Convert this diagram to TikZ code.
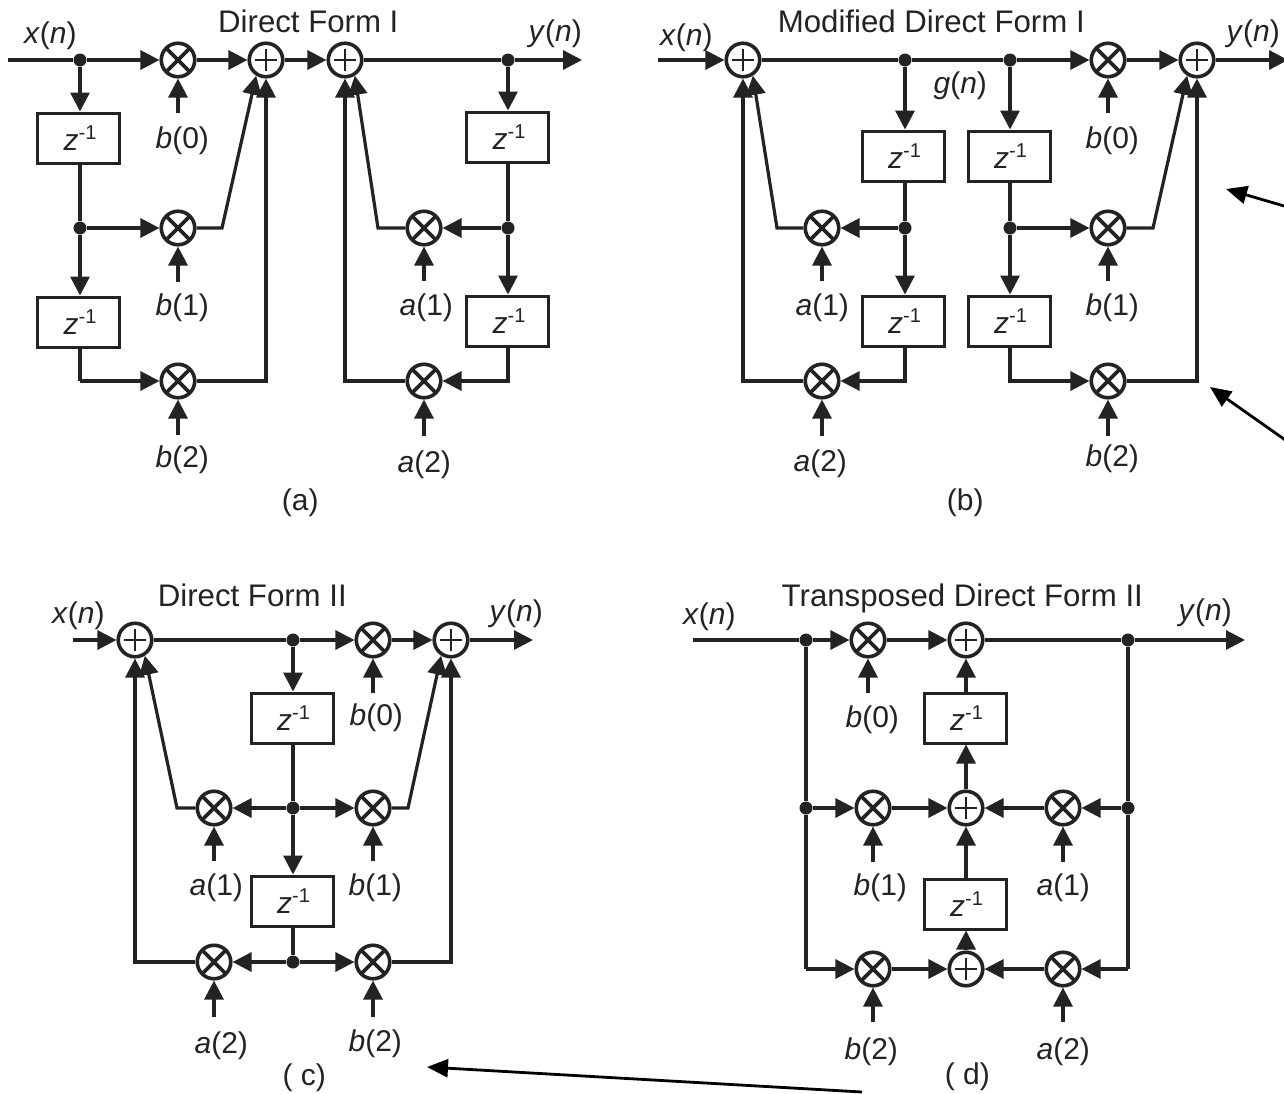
\documentclass[tikz,border=0pt]{standalone}
\usepackage{fontspec}
\setmainfont{Liberation Sans}
\usetikzlibrary{arrows.meta}
\definecolor{ink}{HTML}{232323}
\newcommand{\sym}[1]{\textit{#1}}
\newcommand{\sgn}[2]{\sym{#1}(\sym{#2})}
\newcommand{\coef}[2]{\sym{#1}(#2)}
\newcommand{\zinv}{\hspace*{3pt}\raisebox{-3pt}{\sym{z}\raisebox{11pt}{\fontsize{20}{20}\selectfont -1}}}
\tikzset{
  sigline/.style={draw=ink, line width=3.2pt, line join=miter},
  arr/.style={sigline, -{Triangle[length=19pt,width=19pt]}},
  note/.style={draw=black, fill=black, line width=2.8pt, -{Triangle[length=21pt,width=18pt]}},
  mulnode/.style={circle, draw=ink, line width=3.6pt, fill=white, minimum size=33.5pt, inner sep=0pt,
    path picture={\draw[ink, line width=3.6pt] (path picture bounding box.north west)--(path picture bounding box.south east)
      (path picture bounding box.north east)--(path picture bounding box.south west);}},
  addnode/.style={circle, draw=ink, line width=3.6pt, fill=white, minimum size=33.5pt, inner sep=0pt,
    path picture={\draw[ink, line width=2.4pt] ([xshift=-11pt]path picture bounding box.center)--([xshift=11pt]path picture bounding box.center)
      ([yshift=-11pt]path picture bounding box.center)--([yshift=11pt]path picture bounding box.center);}},
  dotnode/.style={circle, fill=ink, draw=none, minimum size=13pt, inner sep=0pt},
  zbox/.style={rectangle, draw=ink, line width=3pt, fill=white, minimum width=82pt, minimum height=50pt, inner sep=0pt, font=\fontsize{30}{30}\selectfont, text=ink},
  lab/.style={draw=none, font=\fontsize{30}{30}\selectfont, text=ink, inner sep=0pt, xshift=0.3pt, yshift=-2.5pt},
  ttl/.style={lab, font=\fontsize{31.2}{31.2}\selectfont},
}
% name, x, y, input-start y, label x, label y, label
\newcommand{\Mul}[7]{%
  \node[mulnode] (#1) at (#2,#3) {};
  \coordinate (#1s) at (#2,#4);
  \node[lab] (#1t) at (#5,#6) {#7};
  \draw[arr] (#1s) -- (#1);
}
\begin{document}
\begin{tikzpicture}[x=1pt,y=-1pt]
\useasboundingbox (0,0) rectangle (1284,1093);
\fill[white] (0,0) rectangle (1284,1093);

% ---------- (a)
\node[ttl] (ta) at (308,19) {Direct Form I};
\node[lab] (xa) at (50,33) {\sgn{x}{n}};
\node[lab] (ya) at (555,31) {\sgn{y}{n}};
\node[lab] (ca) at (300,500) {(a)};
\coordinate (ain) at (8,60);
\coordinate (aout) at (582,60);
\node[dotnode] (ad1) at (80,60) {};
\node[dotnode] (ad2) at (80,228) {};
\node[dotnode] (ad3) at (508,60) {};
\node[dotnode] (ad4) at (508,228) {};
\node[zbox] (az1) at (78.5,138) {\zinv};
\node[zbox] (az2) at (78.5,322) {\zinv};
\node[zbox] (az3) at (507.5,137) {\zinv};
\node[zbox] (az4) at (507.5,321) {\zinv};
\node[addnode] (aa1) at (266,60) {};
\node[addnode] (aa2) at (345,60) {};
\Mul{ab0}{178}{60}{113}{182}{138}{\coef{b}{0}}
\Mul{ab1}{178}{228}{282}{182}{305}{\coef{b}{1}}
\Mul{ab2}{178}{381}{435}{182}{457}{\coef{b}{2}}
\Mul{am1}{424}{228}{281}{426}{305}{\coef{a}{1}}
\Mul{am2}{424}{381}{436}{424}{462}{\coef{a}{2}}
\coordinate (ac1) at (222,228);
\coordinate (ac2) at (266,381);
\coordinate (ac3) at (378,228);
\coordinate (ac4) at (345,381);
\coordinate (ac5) at (80,381);
\coordinate (ac6) at (508,381);
\draw[sigline] (ain) -- (ad1);
\draw[arr] (ad1) -- (ab0);
\draw[arr] (ab0) -- (aa1);
\draw[arr] (aa1) -- (aa2);
\draw[arr] (aa2) -- (ad3) -- (aout);
\draw[arr] (ad1) -- (ad1|-az1.north);
\draw[sigline] (ad2|-az1.south) -- (ad2);
\draw[arr] (ad2) -- (ab1);
\draw[arr] (ad2) -- (ad2|-az2.north);
\draw[arr] (ab1) -- (ac1) -- (aa1.-122);
\draw[sigline] (ad2|-az2.south) -- (ac5);
\draw[arr] (ac5) -- (ab2);
\draw[arr] (ab2) -- (ac2) -- (aa1);
\draw[arr] (ad3) -- (ad3|-az3.north);
\draw[sigline] (ad3|-az3.south) -- (ad4);
\draw[arr] (ad4) -- (am1);
\draw[arr] (ad4) -- (ad4|-az4.north);
\draw[arr] (am1) -- (ac3) -- (aa2.-58);
\draw[arr] (ad4|-az4.south) -- (ac6) -- (am2);
\draw[arr] (am2) -- (ac4) -- (aa2);

% ---------- (b)
\node[ttl] (tb) at (931,19) {Modified Direct Form I};
\node[lab] (xb) at (686,35) {\sgn{x}{n}};
\node[lab] (yb) at (1253,31) {\sgn{y}{n}};
\node[lab] (gb) at (960,83) {\sgn{g}{n}};
\node[lab] (cb) at (965,500) {(b)};
\coordinate (bin) at (658,60);
\coordinate (bout) at (1288,60);
\node[addnode] (ba1) at (743,60) {};
\node[addnode] (ba2) at (1197,60) {};
\node[dotnode] (bd1) at (905,60) {};
\node[dotnode] (bd2) at (1010,60) {};
\node[dotnode] (bd3) at (905,228) {};
\node[dotnode] (bd4) at (1010,228) {};
\node[zbox] (bz1) at (903,156) {\zinv};
\node[zbox] (bz2) at (1009,156) {\zinv};
\node[zbox] (bz3) at (903,321) {\zinv};
\node[zbox] (bz4) at (1009,321) {\zinv};
\Mul{bb0}{1108}{60}{113}{1112}{138}{\coef{b}{0}}
\Mul{bb1}{1108}{228}{281}{1112}{305}{\coef{b}{1}}
\Mul{bb2}{1108}{381}{436}{1112}{456}{\coef{b}{2}}
\Mul{bm1}{822}{228}{281}{822}{305}{\coef{a}{1}}
\Mul{bm2}{822}{381}{436}{820}{461}{\coef{a}{2}}
\coordinate (bc1) at (777,228);
\coordinate (bc2) at (743,381);
\coordinate (bc3) at (905,381);
\coordinate (bc4) at (1010,381);
\coordinate (bc5) at (1153,228);
\coordinate (bc6) at (1197,381);
\draw[arr] (bin) -- (ba1);
\draw[arr] (ba1) -- (bd1) -- (bd2) -- (bb0);
\draw[arr] (bb0) -- (ba2);
\draw[arr] (ba2) -- (bout);
\draw[arr] (bd1) -- (bd1|-bz1.north);
\draw[arr] (bd2) -- (bd2|-bz2.north);
\draw[sigline] (bd3|-bz1.south) -- (bd3);
\draw[sigline] (bd4|-bz2.south) -- (bd4);
\draw[arr] (bd3) -- (bm1);
\draw[arr] (bd3) -- (bd3|-bz3.north);
\draw[arr] (bd4) -- (bb1);
\draw[arr] (bd4) -- (bd4|-bz4.north);
\draw[arr] (bm1) -- (bc1) -- (ba1.-58);
\draw[arr] (bd3|-bz3.south) -- (bc3) -- (bm2);
\draw[arr] (bm2) -- (bc2) -- (ba1);
\draw[arr] (bd4|-bz4.south) -- (bc4) -- (bb2);
\draw[arr] (bb1) -- (bc5) -- (ba2.-122);
\draw[arr] (bb2) -- (bc6) -- (ba2);

% ---------- (c)
\node[ttl] (tc) at (252,593) {Direct Form II};
\node[lab] (xc) at (78,613) {\sgn{x}{n}};
\node[lab] (yc) at (516,611) {\sgn{y}{n}};
\node[lab] (cc) at (304,1075) {( c)};
\coordinate (cin) at (73,640);
\coordinate (cout) at (533,640);
\node[addnode] (ca1) at (135,640) {};
\node[addnode] (ca2) at (451,640) {};
\node[dotnode] (cd1) at (293,640) {};
\node[dotnode] (cd2) at (293,808) {};
\node[dotnode] (cd3) at (293,962) {};
\node[zbox] (cz1) at (292,718) {\zinv};
\node[zbox] (cz2) at (292,901) {\zinv};
\Mul{cb0}{373}{640}{693}{376}{715}{\coef{b}{0}}
\Mul{cb1}{373}{808}{861}{375}{885}{\coef{b}{1}}
\Mul{cb2}{373}{962}{1017}{375}{1041}{\coef{b}{2}}
\Mul{cm1}{214}{808}{861}{216}{885}{\coef{a}{1}}
\Mul{cm2}{214}{962}{1017}{221}{1043}{\coef{a}{2}}
\coordinate (cc1) at (177,808);
\coordinate (cc2) at (135,962);
\coordinate (cc3) at (408,808);
\coordinate (cc4) at (451,962);
\draw[arr] (cin) -- (ca1);
\draw[arr] (ca1) -- (cd1) -- (cb0);
\draw[arr] (cb0) -- (ca2);
\draw[arr] (ca2) -- (cout);
\draw[arr] (cd1) -- (cd1|-cz1.north);
\draw[sigline] (cd2|-cz1.south) -- (cd2);
\draw[arr] (cd2) -- (cd2|-cz2.north);
\draw[arr] (cd2) -- (cm1);
\draw[arr] (cd2) -- (cb1);
\draw[sigline] (cd3|-cz2.south) -- (cd3);
\draw[arr] (cd3) -- (cm2);
\draw[arr] (cd3) -- (cb2);
\draw[arr] (cm1) -- (cc1) -- (ca1.-58);
\draw[arr] (cm2) -- (cc2) -- (ca1);
\draw[arr] (cb1) -- (cc3) -- (ca2.-122);
\draw[arr] (cb2) -- (cc4) -- (ca2);

% ---------- (d)
\node[ttl] (td) at (962,596) {Transposed Direct Form II};
\node[lab] (xd) at (709,614) {\sgn{x}{n}};
\node[lab] (yd) at (1205,610) {\sgn{y}{n}};
\node[lab] (cd) at (967,1074) {( d)};
\coordinate (din) at (693,640);
\coordinate (dout) at (1245,640);
\node[dotnode] (dd1) at (806,640) {};
\node[dotnode] (dd2) at (806,808) {};
\node[dotnode] (dd3) at (1128,640) {};
\node[dotnode] (dd4) at (1128,808) {};
\coordinate (dc1) at (806,969);
\coordinate (dc2) at (1128,969);
\node[addnode] (da1) at (966,640) {};
\node[addnode] (da2) at (966,808) {};
\node[addnode] (da3) at (966,969) {};
\node[zbox] (dz1) at (965,718) {\zinv};
\node[zbox] (dz2) at (965,904) {\zinv};
\Mul{db0}{868}{640}{693}{872}{717}{\coef{b}{0}}
\Mul{db1}{873}{808}{862}{880}{885}{\coef{b}{1}}
\Mul{db2}{873}{969}{1022}{871}{1049}{\coef{b}{2}}
\Mul{dm1}{1063}{808}{862}{1063}{885}{\coef{a}{1}}
\Mul{dm2}{1063}{969}{1022}{1063}{1049}{\coef{a}{2}}
\draw[sigline] (din) -- (dd1);
\draw[arr] (dd1) -- (db0);
\draw[arr] (db0) -- (da1);
\draw[arr] (da1) -- (dd3) -- (dout);
\draw[sigline] (dd1) -- (dd2) -- (dc1);
\draw[arr] (dc1) -- (db2);
\draw[arr] (dd2) -- (db1);
\draw[arr] (db1) -- (da2);
\draw[arr] (db2) -- (da3);
\draw[sigline] (dd3) -- (dd4) -- (dc2);
\draw[arr] (dc2) -- (dm2);
\draw[arr] (dd4) -- (dm1);
\draw[arr] (dm1) -- (da2);
\draw[arr] (dm2) -- (da3);
\draw[arr] (da3) -- (da3|-dz2.south);
\draw[arr] (da2|-dz2.north) -- (da2);
\draw[arr] (da2) -- (da2|-dz1.south);
\draw[arr] (da1|-dz1.north) -- (da1);

% ---------- annotation arrows
\coordinate (n1a) at (1291,208);
\coordinate (n1b) at (1226,189);
\coordinate (n2a) at (1291,444);
\coordinate (n2b) at (1210,387);
\coordinate (n3a) at (862,1092);
\coordinate (n3b) at (427,1067);
\draw[note] (n1a) -- (n1b);
\draw[note] (n2a) -- (n2b);
\draw[note] (n3a) -- (n3b);
\end{tikzpicture}
\end{document}
